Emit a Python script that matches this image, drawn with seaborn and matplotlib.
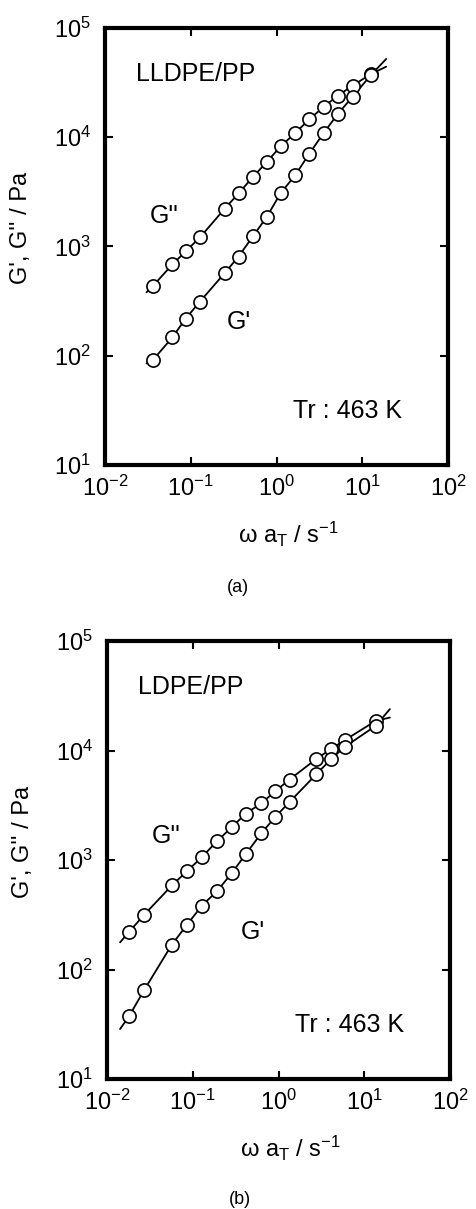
import numpy as np
import pandas as pd
import matplotlib
matplotlib.use("Agg")
import matplotlib.pyplot as plt
import seaborn as sns

# values (log-log)
# (a) LLDPE/PP
a_freq = [0.0365, 0.061, 0.087, 0.128, 0.248, 0.361, 0.53, 0.77, 1.12, 1.65,
          2.42, 3.55, 5.16, 7.7, 12.6]
a_g2 = [438, 684, 900, 1210, 2210, 3060, 4320, 5930, 8260, 10900,
        14600, 18970, 23900, 29600, 37800]
a_g1 = [92, 147, 218, 313, 569, 809, 1235, 1866, 3080, 4480,
        7080, 10940, 16250, 23400, 37000]
# fitted curve ends (a)
a_fit_x = [0.0305, 19.0]
a_fit_g2 = [381, 44200]
a_fit_g1 = [85, 52000]

# (b) LDPE/PP
b_freq = [0.0182, 0.0273, 0.0571, 0.0856, 0.128, 0.192, 0.287, 0.413, 0.632,
          0.916, 1.345, 2.76, 4.06, 5.91, 13.6]
b_g2 = [222, 318, 586, 791, 1063, 1490, 2000, 2650, 3300, 4250, 5430,
        8380, 10270, 12420, 18650]
b_g1 = [37.8, 65.5, 169, 256, 384, 519, 765, 1125, 1762, 2470, 3390,
        6070, 8280, 10790, 16800]
b_fit_x = [0.0142, 19.9]
b_fit_g2 = [177, 20000]
b_fit_g1 = [28.6, 23900]

sns.set_style("ticks")
plt.rcParams["font.family"] = ["Liberation Sans", "DejaVu Sans"]
plt.rcParams["mathtext.default"] = "regular"
plt.rcParams["axes.unicode_minus"] = False
for key in ["text.color", "axes.labelcolor", "xtick.color", "ytick.color",
            "axes.edgecolor"]:
    plt.rcParams[key] = "black"

fig = plt.figure(figsize=(4.76, 12.09), dpi=100)
ax_a = fig.add_axes([0.2206, 0.6154, 0.7206, 0.3615])
ax_b = fig.add_axes([0.2248, 0.1075, 0.7206, 0.3623])


def draw(ax, freq, g2, g1, fx, fg2, fg1, name):
    for y, fy in [(g2, fg2), (g1, fg1)]:
        curve = pd.DataFrame({"x": [fx[0]] + freq + [fx[1]],
                              "y": [fy[0]] + y + [fy[1]]})
        sns.lineplot(data=curve, x="x", y="y", ax=ax, color="black",
                     linewidth=1.3, sort=False, estimator=None)
        pts = pd.DataFrame({"x": freq, "y": y})
        sns.scatterplot(data=pts, x="x", y="y", ax=ax, s=90, marker="o",
                        facecolor="white", edgecolor="black", linewidth=1.2,
                        zorder=3)
    ax.set_xscale("log")
    ax.set_yscale("log")
    ax.set_xlim(1e-2, 1e2)
    ax.set_ylim(1e1, 1e5)
    ax.set_xticks([1e-2, 1e-1, 1e0, 1e1, 1e2])
    ax.set_yticks([1e1, 1e2, 1e3, 1e4, 1e5])
    ax.minorticks_off()
    ax.tick_params(which="major", direction="in", length=6, width=1.5,
                   top=True, right=True, labelsize=17)
    ax.tick_params(axis="y", pad=10)
    ax.tick_params(axis="x", pad=8)
    for sp in ax.spines.values():
        sp.set_visible(True)
        sp.set_linewidth(3)
    ax.set_xlabel("ω a$_T$ / s$^{-1}$", fontsize=17)
    ax.set_ylabel("G', G'' / Pa", fontsize=17)
    ax.xaxis.set_label_coords(0.534, -0.125)
    ax.yaxis.set_label_coords(-0.213, 0.542)
    ax.text(0.09, 0.895, name, transform=ax.transAxes, fontsize=18,
            va="center", ha="left")
    ax.text(0.548, 0.124, "Tr : 463 K", transform=ax.transAxes, fontsize=18,
            va="center", ha="left")


draw(ax_a, a_freq, a_g2, a_g1, a_fit_x, a_fit_g2, a_fit_g1, "LLDPE/PP")
ax_a.text(0.131, 0.570, "G''", transform=ax_a.transAxes, fontsize=18,
          va="center", ha="left")
ax_a.text(0.356, 0.327, "G'", transform=ax_a.transAxes, fontsize=18,
          va="center", ha="left")

draw(ax_b, b_freq, b_g2, b_g1, b_fit_x, b_fit_g2, b_fit_g1, "LDPE/PP")
ax_b.text(0.13, 0.555, "G''", transform=ax_b.transAxes, fontsize=18,
          va="center", ha="left")
ax_b.text(0.39, 0.335, "G'", transform=ax_b.transAxes, fontsize=18,
          va="center", ha="left")

fig.text(238 / 476, 1 - 587 / 1209, "(a)", fontsize=13, ha="center", va="center")
fig.text(240 / 476, 1 - 1200 / 1209, "(b)", fontsize=13, ha="center", va="center")

fig.savefig("out.png", dpi=100)
